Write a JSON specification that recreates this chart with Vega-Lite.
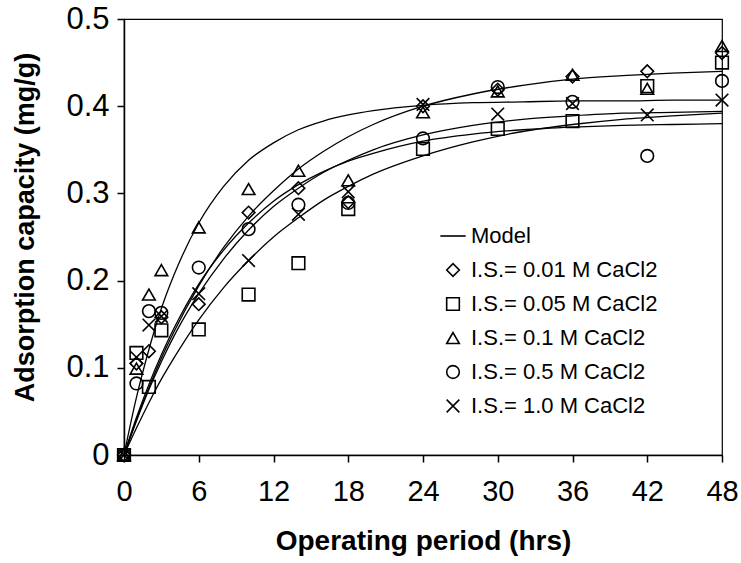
{
  "$schema": "https://vega.github.io/schema/vega-lite/v6.json",
  "width": 598,
  "height": 436,
  "autosize": {"type": "none"},
  "padding": {"left": 124, "top": 19, "right": 19, "bottom": 108},
  "background": "white",
  "config": {
    "view": {"stroke": "black", "strokeWidth": 1.2},
    "font": "Liberation Sans",
    "axis": {
      "grid": false,
      "domainColor": "black",
      "domainWidth": 1.5,
      "tickColor": "black",
      "tickWidth": 1.5,
      "tickSize": 7,
      "labelFlush": false,
      "labelColor": "black",
      "labelFont": "Liberation Sans",
      "labelFontSize": 29,
      "titleColor": "black",
      "titleFont": "Liberation Sans",
      "titleFontSize": 27,
      "titleFontWeight": "bold"
    }
  },
  "datasets": {
    "models": [
      {"curve": "A", "t": 0, "q": 0}, {"curve": "A", "t": 1, "q": 0.066}, {"curve": "A", "t": 2, "q": 0.121}, {"curve": "A", "t": 3, "q": 0.168}, {"curve": "A", "t": 4, "q": 0.206}, {"curve": "A", "t": 6, "q": 0.266}, {"curve": "A", "t": 8, "q": 0.308}, {"curve": "A", "t": 10, "q": 0.338}, {"curve": "A", "t": 12, "q": 0.358}, {"curve": "A", "t": 14, "q": 0.373}, {"curve": "A", "t": 16, "q": 0.383}, {"curve": "A", "t": 18, "q": 0.39}, {"curve": "A", "t": 20, "q": 0.395}, {"curve": "A", "t": 24, "q": 0.401}, {"curve": "A", "t": 28, "q": 0.404}, {"curve": "A", "t": 32, "q": 0.405}, {"curve": "A", "t": 36, "q": 0.406}, {"curve": "A", "t": 40, "q": 0.406}, {"curve": "A", "t": 44, "q": 0.407}, {"curve": "A", "t": 48, "q": 0.407},
      {"curve": "B", "t": 0, "q": 0}, {"curve": "B", "t": 1, "q": 0.0405}, {"curve": "B", "t": 2, "q": 0.0773}, {"curve": "B", "t": 3, "q": 0.111}, {"curve": "B", "t": 4, "q": 0.141}, {"curve": "B", "t": 6, "q": 0.194}, {"curve": "B", "t": 8, "q": 0.238}, {"curve": "B", "t": 10, "q": 0.274}, {"curve": "B", "t": 12, "q": 0.303}, {"curve": "B", "t": 14, "q": 0.328}, {"curve": "B", "t": 16, "q": 0.348}, {"curve": "B", "t": 18, "q": 0.365}, {"curve": "B", "t": 20, "q": 0.379}, {"curve": "B", "t": 24, "q": 0.4}, {"curve": "B", "t": 28, "q": 0.414}, {"curve": "B", "t": 32, "q": 0.424}, {"curve": "B", "t": 36, "q": 0.431}, {"curve": "B", "t": 40, "q": 0.435}, {"curve": "B", "t": 44, "q": 0.438}, {"curve": "B", "t": 48, "q": 0.44},
      {"curve": "C", "t": 0, "q": 0}, {"curve": "C", "t": 1, "q": 0.039}, {"curve": "C", "t": 2, "q": 0.075}, {"curve": "C", "t": 3, "q": 0.107}, {"curve": "C", "t": 4, "q": 0.136}, {"curve": "C", "t": 6, "q": 0.185}, {"curve": "C", "t": 8, "q": 0.225}, {"curve": "C", "t": 10, "q": 0.258}, {"curve": "C", "t": 12, "q": 0.285}, {"curve": "C", "t": 14, "q": 0.306}, {"curve": "C", "t": 16, "q": 0.324}, {"curve": "C", "t": 18, "q": 0.338}, {"curve": "C", "t": 20, "q": 0.35}, {"curve": "C", "t": 24, "q": 0.367}, {"curve": "C", "t": 28, "q": 0.378}, {"curve": "C", "t": 32, "q": 0.385}, {"curve": "C", "t": 36, "q": 0.389}, {"curve": "C", "t": 40, "q": 0.392}, {"curve": "C", "t": 44, "q": 0.393}, {"curve": "C", "t": 48, "q": 0.394},
      {"curve": "D", "t": 0, "q": 0}, {"curve": "D", "t": 1, "q": 0.043}, {"curve": "D", "t": 2, "q": 0.081}, {"curve": "D", "t": 3, "q": 0.115}, {"curve": "D", "t": 4, "q": 0.145}, {"curve": "D", "t": 6, "q": 0.196}, {"curve": "D", "t": 8, "q": 0.235}, {"curve": "D", "t": 10, "q": 0.266}, {"curve": "D", "t": 12, "q": 0.291}, {"curve": "D", "t": 14, "q": 0.31}, {"curve": "D", "t": 16, "q": 0.325}, {"curve": "D", "t": 18, "q": 0.337}, {"curve": "D", "t": 20, "q": 0.346}, {"curve": "D", "t": 24, "q": 0.36}, {"curve": "D", "t": 28, "q": 0.368}, {"curve": "D", "t": 32, "q": 0.373}, {"curve": "D", "t": 36, "q": 0.376}, {"curve": "D", "t": 40, "q": 0.378}, {"curve": "D", "t": 44, "q": 0.379}, {"curve": "D", "t": 48, "q": 0.38},
      {"curve": "E", "t": 0, "q": 0}, {"curve": "E", "t": 1, "q": 0.031}, {"curve": "E", "t": 2, "q": 0.06}, {"curve": "E", "t": 3, "q": 0.087}, {"curve": "E", "t": 4, "q": 0.111}, {"curve": "E", "t": 6, "q": 0.155}, {"curve": "E", "t": 8, "q": 0.192}, {"curve": "E", "t": 10, "q": 0.223}, {"curve": "E", "t": 12, "q": 0.25}, {"curve": "E", "t": 14, "q": 0.272}, {"curve": "E", "t": 16, "q": 0.292}, {"curve": "E", "t": 18, "q": 0.308}, {"curve": "E", "t": 20, "q": 0.322}, {"curve": "E", "t": 24, "q": 0.343}, {"curve": "E", "t": 28, "q": 0.359}, {"curve": "E", "t": 32, "q": 0.371}, {"curve": "E", "t": 36, "q": 0.379}, {"curve": "E", "t": 40, "q": 0.385}, {"curve": "E", "t": 44, "q": 0.389}, {"curve": "E", "t": 48, "q": 0.392}
    ],
    "obs": [
      {"series": "I.S.= 0.01 M CaCl2", "t": 0, "q": 0}, {"series": "I.S.= 0.01 M CaCl2", "t": 1, "q": 0.105}, {"series": "I.S.= 0.01 M CaCl2", "t": 2, "q": 0.119}, {"series": "I.S.= 0.01 M CaCl2", "t": 3, "q": 0.158}, {"series": "I.S.= 0.01 M CaCl2", "t": 6, "q": 0.173}, {"series": "I.S.= 0.01 M CaCl2", "t": 10, "q": 0.278}, {"series": "I.S.= 0.01 M CaCl2", "t": 14, "q": 0.306}, {"series": "I.S.= 0.01 M CaCl2", "t": 18, "q": 0.29}, {"series": "I.S.= 0.01 M CaCl2", "t": 24, "q": 0.4}, {"series": "I.S.= 0.01 M CaCl2", "t": 30, "q": 0.419}, {"series": "I.S.= 0.01 M CaCl2", "t": 36, "q": 0.434}, {"series": "I.S.= 0.01 M CaCl2", "t": 42, "q": 0.44}, {"series": "I.S.= 0.01 M CaCl2", "t": 48, "q": 0.461},
      {"series": "I.S.= 0.05 M CaCl2", "t": 0, "q": 0}, {"series": "I.S.= 0.05 M CaCl2", "t": 1, "q": 0.117}, {"series": "I.S.= 0.05 M CaCl2", "t": 2, "q": 0.078}, {"series": "I.S.= 0.05 M CaCl2", "t": 3, "q": 0.143}, {"series": "I.S.= 0.05 M CaCl2", "t": 6, "q": 0.144}, {"series": "I.S.= 0.05 M CaCl2", "t": 10, "q": 0.184}, {"series": "I.S.= 0.05 M CaCl2", "t": 14, "q": 0.22}, {"series": "I.S.= 0.05 M CaCl2", "t": 18, "q": 0.282}, {"series": "I.S.= 0.05 M CaCl2", "t": 24, "q": 0.351}, {"series": "I.S.= 0.05 M CaCl2", "t": 30, "q": 0.374}, {"series": "I.S.= 0.05 M CaCl2", "t": 36, "q": 0.383}, {"series": "I.S.= 0.05 M CaCl2", "t": 42, "q": 0.423}, {"series": "I.S.= 0.05 M CaCl2", "t": 48, "q": 0.45},
      {"series": "I.S.= 0.1 M CaCl2", "t": 0, "q": 0}, {"series": "I.S.= 0.1 M CaCl2", "t": 1, "q": 0.099}, {"series": "I.S.= 0.1 M CaCl2", "t": 2, "q": 0.184}, {"series": "I.S.= 0.1 M CaCl2", "t": 3, "q": 0.212}, {"series": "I.S.= 0.1 M CaCl2", "t": 6, "q": 0.261}, {"series": "I.S.= 0.1 M CaCl2", "t": 10, "q": 0.305}, {"series": "I.S.= 0.1 M CaCl2", "t": 14, "q": 0.326}, {"series": "I.S.= 0.1 M CaCl2", "t": 18, "q": 0.315}, {"series": "I.S.= 0.1 M CaCl2", "t": 24, "q": 0.393}, {"series": "I.S.= 0.1 M CaCl2", "t": 30, "q": 0.417}, {"series": "I.S.= 0.1 M CaCl2", "t": 36, "q": 0.436}, {"series": "I.S.= 0.1 M CaCl2", "t": 42, "q": 0.42}, {"series": "I.S.= 0.1 M CaCl2", "t": 48, "q": 0.469},
      {"series": "I.S.= 0.5 M CaCl2", "t": 0, "q": 0}, {"series": "I.S.= 0.5 M CaCl2", "t": 1, "q": 0.082}, {"series": "I.S.= 0.5 M CaCl2", "t": 2, "q": 0.165}, {"series": "I.S.= 0.5 M CaCl2", "t": 3, "q": 0.163}, {"series": "I.S.= 0.5 M CaCl2", "t": 6, "q": 0.215}, {"series": "I.S.= 0.5 M CaCl2", "t": 10, "q": 0.259}, {"series": "I.S.= 0.5 M CaCl2", "t": 14, "q": 0.287}, {"series": "I.S.= 0.5 M CaCl2", "t": 18, "q": 0.289}, {"series": "I.S.= 0.5 M CaCl2", "t": 24, "q": 0.363}, {"series": "I.S.= 0.5 M CaCl2", "t": 30, "q": 0.422}, {"series": "I.S.= 0.5 M CaCl2", "t": 36, "q": 0.405}, {"series": "I.S.= 0.5 M CaCl2", "t": 42, "q": 0.343}, {"series": "I.S.= 0.5 M CaCl2", "t": 48, "q": 0.429},
      {"series": "I.S.= 1.0 M CaCl2", "t": 0, "q": 0}, {"series": "I.S.= 1.0 M CaCl2", "t": 1, "q": 0.112}, {"series": "I.S.= 1.0 M CaCl2", "t": 2, "q": 0.149}, {"series": "I.S.= 1.0 M CaCl2", "t": 3, "q": 0.159}, {"series": "I.S.= 1.0 M CaCl2", "t": 6, "q": 0.185}, {"series": "I.S.= 1.0 M CaCl2", "t": 10, "q": 0.223}, {"series": "I.S.= 1.0 M CaCl2", "t": 14, "q": 0.276}, {"series": "I.S.= 1.0 M CaCl2", "t": 18, "q": 0.302}, {"series": "I.S.= 1.0 M CaCl2", "t": 24, "q": 0.402}, {"series": "I.S.= 1.0 M CaCl2", "t": 30, "q": 0.391}, {"series": "I.S.= 1.0 M CaCl2", "t": 36, "q": 0.403}, {"series": "I.S.= 1.0 M CaCl2", "t": 42, "q": 0.39}, {"series": "I.S.= 1.0 M CaCl2", "t": 48, "q": 0.407}
    ]
  },
  "layer": [
    {
      "data": {"name": "models"},
      "mark": {"type": "line", "color": "black", "strokeWidth": 1.3, "interpolate": "monotone"},
      "encoding": {
        "x": {"field": "t", "type": "quantitative"},
        "y": {"field": "q", "type": "quantitative"},
        "detail": {"field": "curve", "type": "nominal"}
      }
    },
    {
      "data": {"name": "obs"},
      "mark": {"type": "point", "filled": false, "color": "black", "strokeWidth": 1.6, "size": 160, "opacity": 1},
      "encoding": {
        "x": {
          "field": "t", "type": "quantitative",
          "scale": {"domain": [0, 48], "nice": false, "zero": true},
          "axis": {"values": [0, 6, 12, 18, 24, 30, 36, 42, 48], "labelPadding": 15, "title": "Operating period (hrs)", "titlePadding": 21, "titleFontSize": 28}
        },
        "y": {
          "field": "q", "type": "quantitative",
          "scale": {"domain": [0, 0.5], "nice": false},
          "axis": {"values": [0, 0.1, 0.2, 0.3, 0.4, 0.5], "format": "~g", "labelPadding": 8, "labelFontSize": 31, "title": "Adsorption capacity (mg/g)", "titleX": -85, "titleY": 208, "titleBaseline": "bottom"}
        },
        "shape": {
          "field": "series", "type": "nominal",
          "scale": {
            "domain": ["Model", "I.S.= 0.01 M CaCl2", "I.S.= 0.05 M CaCl2", "I.S.= 0.1 M CaCl2", "I.S.= 0.5 M CaCl2", "I.S.= 1.0 M CaCl2"],
            "range": ["M-2,0L2,0", "diamond", "square", "triangle-up", "circle", "M-1,-1L1,1M1,-1L-1,1"]
          },
          "legend": {
            "orient": "none", "legendX": 318, "legendY": 206, "title": null, "padding": 0,
            "labelFont": "Liberation Sans", "labelFontSize": 22, "labelColor": "black", "labelLimit": 400,
            "rowPadding": 12, "symbolSize": 160, "symbolStrokeWidth": 1.6, "symbolStrokeColor": "black", "symbolFillColor": "transparent", "labelOffset": 7
          }
        }
      }
    }
  ]
}
